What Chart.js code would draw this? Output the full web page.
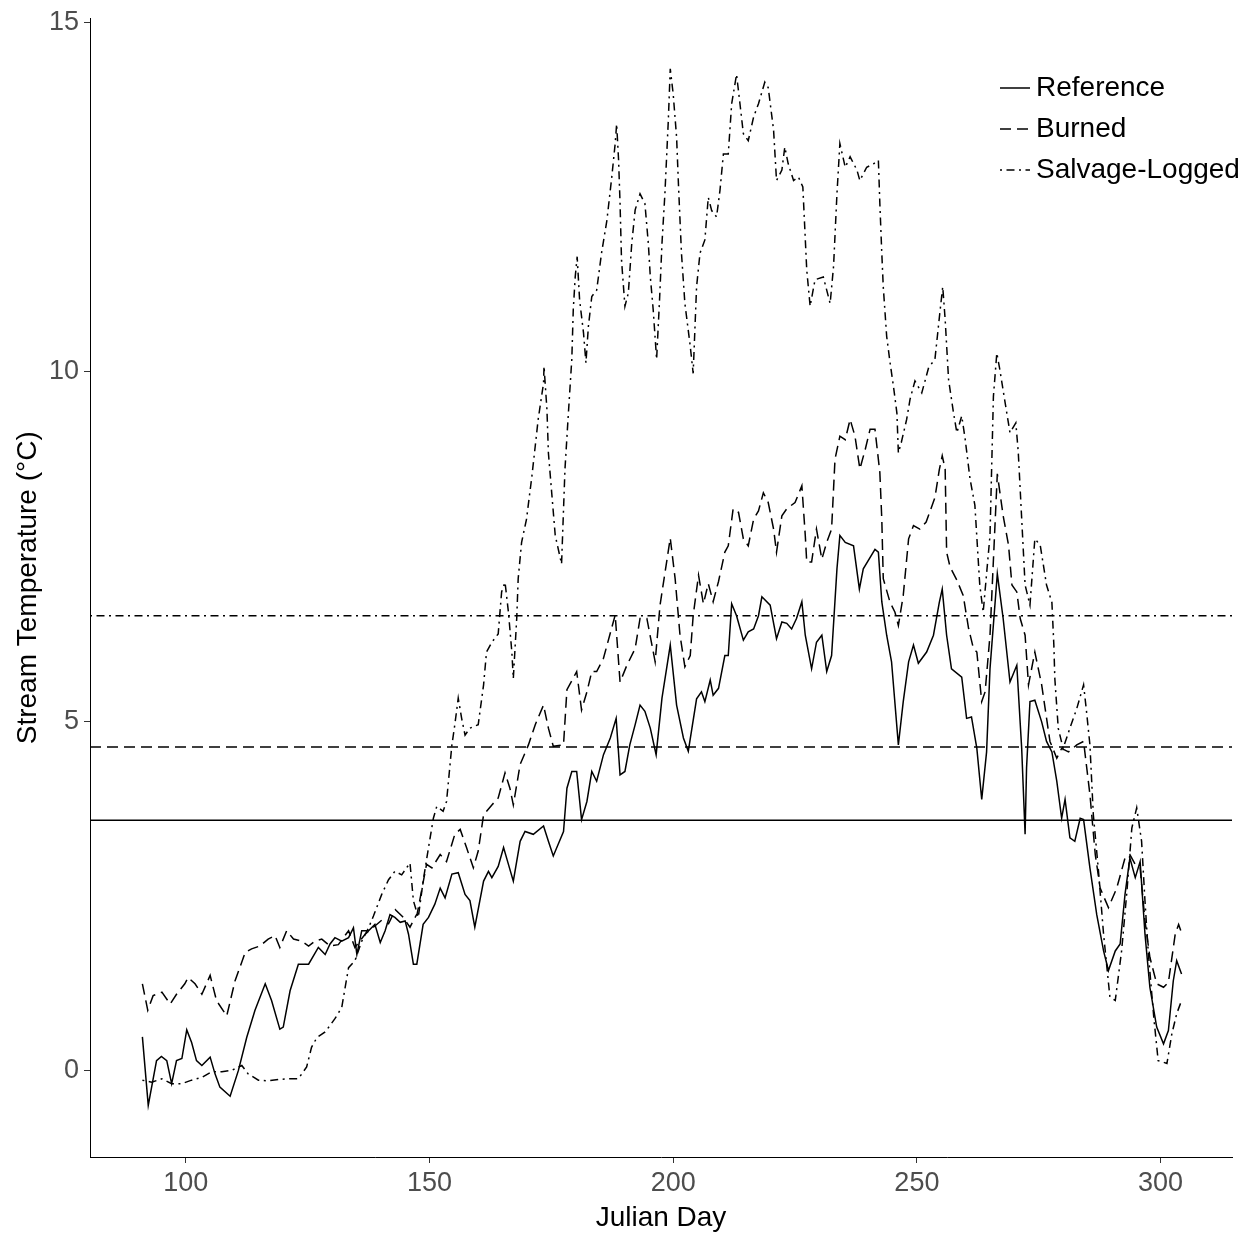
<!DOCTYPE html>
<html>
<head>
<meta charset="utf-8">
<title>Stream temperature by Julian day</title>
<script src="https://cdn.jsdelivr.net/npm/chart.js@4.4.1/dist/chart.umd.min.js"></script>
<style>
  html, body { margin: 0; padding: 0; background: #fff; }
</style>
</head>
<body>
<canvas id="tempChart" width="1257" height="1236"></canvas>
<script>
// Reference stream (solid)
const refDays = [91.1, 92.3, 94, 95, 96.1, 97.1, 98.1, 99.2, 100.2, 101.2, 102.2, 103.3, 105, 106, 107, 109.1, 110.8, 112.5, 114.2, 116.3,
  117.6, 119.3, 120, 121.4, 123.1, 125.2, 127.2, 128.6, 129.6, 130.6, 132, 133.4, 134.4, 135.1, 136.1, 137.5, 138.8, 139.9, 140.9, 141.9,
  142.9, 144, 145, 145.7, 146.7, 147.4, 148.7, 149.8, 151.1, 152.2, 153.2, 154.6, 155.9, 157.3, 158.3, 159.3, 161.1, 162.1, 162.8, 164.1,
  165.2, 166.2, 167.2, 168.6, 169.6, 171.3, 173.4, 174.4, 175.4, 177.5, 178.2, 179.2, 180.2, 181.2, 182.3, 183.3, 184.3, 185.7, 187.1, 188.3,
  189.1, 190.1, 191.1, 192.2, 193.2, 194.2, 195.3, 196.5, 197.7, 199.4, 200.7, 202.1, 203.1, 204.8, 205.8, 206.5, 207.6, 208.2, 209.3, 210.6,
  211.3, 212, 213, 214.4, 215.4, 216.5, 217.5, 218.2, 219.9, 221.2, 222.3, 223.3, 224.3, 225.3, 226.4, 227.1, 228.4, 229.4, 230.5, 231.5,
  232.5, 233.6, 234.2, 235.3, 237, 238.2, 239, 241.4, 242.1, 242.8, 243.8, 244.8, 246.2, 247.2, 248.3, 249.3, 250.3, 252, 253.4, 254.6,
  255.2, 256.1, 257.1, 259.2, 260.2, 261.2, 262.3, 263.3, 264.3, 265, 266.5, 267.7, 269.1, 270.5, 271.5, 272.2, 272.5, 273.2, 274.2, 275.6,
  276.6, 277.7, 278.7, 279.7, 280.4, 281.4, 282.4, 283.5, 284.2, 285.5, 286.9, 288.3, 289.3, 290.7, 291.7, 292.7, 293.7, 294.8, 295.8, 296.8,
  297.8, 299.2, 300.6, 301.6, 302.6, 303.3, 304.3];
const refTemp = [0.48, -0.50, 0.14, 0.20, 0.14, -0.19, 0.14, 0.17, 0.58, 0.40, 0.14, 0.07, 0.19, -0.05, -0.24, -0.37, 0.00, 0.47, 0.86, 1.24,
  1.00, 0.59, 0.62, 1.14, 1.52, 1.52, 1.76, 1.66, 1.81, 1.90, 1.85, 1.90, 2.04, 1.66, 2.00, 2.00, 2.09, 1.83, 2.00, 2.23,
  2.19, 2.12, 2.14, 1.95, 1.52, 1.52, 2.09, 2.19, 2.38, 2.61, 2.47, 2.81, 2.83, 2.52, 2.43, 2.05, 2.71, 2.85, 2.76, 2.92,
  3.19, 2.95, 2.71, 3.28, 3.42, 3.38, 3.50, 3.28, 3.07, 3.42, 4.04, 4.28, 4.28, 3.59, 3.85, 4.28, 4.14, 4.52, 4.76, 5.04,
  4.23, 4.28, 4.66, 4.95, 5.23, 5.14, 4.90, 4.52, 5.33, 6.09, 5.23, 4.76, 4.57, 5.32, 5.42, 5.28, 5.59, 5.37, 5.47, 5.94,
  5.94, 6.68, 6.51, 6.16, 6.28, 6.32, 6.51, 6.78, 6.66, 6.18, 6.42, 6.40, 6.32, 6.47, 6.71, 6.23, 5.75, 6.13, 6.23, 5.71,
  5.94, 7.18, 7.66, 7.56, 7.51, 6.89, 7.18, 7.46, 7.42, 6.71, 6.23, 5.85, 4.66, 5.28, 5.85, 6.09, 5.83, 5.99, 6.23, 6.70,
  6.89, 6.23, 5.75, 5.63, 5.04, 5.06, 4.61, 3.88, 4.56, 5.75, 7.11, 6.47, 5.56, 5.80, 4.61, 3.38, 4.33, 5.28, 5.30, 4.99,
  4.71, 4.56, 4.14, 3.61, 3.88, 3.33, 3.28, 3.61, 3.59, 2.90, 2.23, 1.71, 1.43, 1.71, 1.81, 2.52, 3.04, 2.76, 2.99, 1.95,
  1.19, 0.62, 0.38, 0.57, 1.28, 1.57, 1.38];

// Burned stream (dashed)
const burnDays = [91.1, 92.2, 93.3, 95.1, 96.8, 98.1, 99.8, 100.5, 101.9, 103.3, 105, 106.3, 108.4, 110.1, 112.2, 113.5, 115.2, 116.9, 118.3, 119.3,
  120.7, 122.1, 123.8, 125.2, 126.5, 127.9, 129.6, 131.3, 133.4, 134.7, 136.8, 138.5, 140.2, 141.6, 143, 144.5, 146, 147.5, 149.4, 150.5,
  152.2, 153.5, 155.2, 156.3, 157.6, 159, 160, 161.1, 162.8, 164.1, 165.5, 166.5, 167.2, 168.6, 170.3, 171.7, 173.4, 174.4, 175.4, 177.5,
  178.2, 180.2, 181.2, 182.3, 183.3, 184.3, 185.7, 188.1, 189.1, 190.5, 192.2, 193.2, 194.6, 196.3, 197.3, 199.4, 200.4, 201.4, 202.4, 203.5,
  204.1, 205.2, 206.2, 207.2, 208.2, 209.3, 210.6, 211.3, 212.3, 213.4, 214.4, 215.4, 216.5, 217.5, 218.5, 219.5, 220.6, 221.2, 222.3, 223.3,
  225, 226.4, 227.1, 227.4, 228.4, 229.4, 230.5, 231.5, 232.5, 233.2, 234.2, 235.3, 236.3, 237.3, 238.3, 239.4, 240.4, 241.4, 242.4, 242.8,
  243.1, 244.5, 245.5, 246.2, 247.2, 248.3, 249.3, 250.6, 251.9, 253.7, 254.6, 255.2, 255.8, 256.1, 256.8, 258.2, 259.5, 260.6, 261.6, 262.3,
  263.3, 264, 265, 266.5, 267.7, 268.8, 269.5, 270.5, 271.2, 272.2, 272.9, 274.2, 275.6, 277.3, 278.7, 279.7, 281.1, 282.8, 284.2, 285.5,
  286.6, 287.6, 289.3, 291, 292.7, 293.7, 294.8, 295.8, 296.8, 297.8, 299.2, 300.6, 301.6, 303, 303.7, 304.3];
const burnTemp = [1.24, 0.86, 1.07, 1.12, 0.95, 1.09, 1.24, 1.33, 1.24, 1.09, 1.36, 1.00, 0.78, 1.28, 1.69, 1.74, 1.78, 1.88, 1.93, 1.76,
  2.00, 1.88, 1.85, 1.78, 1.85, 1.88, 1.78, 1.80, 2.00, 1.76, 1.95, 2.05, 2.15, 2.10, 2.30, 2.20, 2.05, 2.25, 2.95, 2.90,
  3.09, 2.99, 3.38, 3.45, 3.19, 2.90, 3.14, 3.66, 3.80, 3.90, 4.26, 4.04, 3.80, 4.38, 4.66, 4.95, 5.23, 4.90, 4.64, 4.66,
  5.45, 5.71, 5.16, 5.42, 5.71, 5.71, 5.90, 6.52, 5.56, 5.80, 6.04, 6.47, 6.47, 5.85, 6.66, 7.62, 7.04, 6.23, 5.78, 5.94,
  6.51, 7.09, 6.68, 6.97, 6.71, 7.00, 7.42, 7.51, 8.04, 7.99, 7.61, 7.51, 7.89, 8.01, 8.27, 8.13, 7.75, 7.42, 7.94, 8.04,
  8.13, 8.37, 7.66, 7.28, 7.28, 7.75, 7.32, 7.56, 7.75, 8.75, 9.08, 9.03, 9.32, 9.08, 8.61, 8.89, 9.18, 9.18, 8.56, 7.89,
  7.04, 6.70, 6.56, 6.37, 6.80, 7.61, 7.80, 7.75, 7.85, 8.20, 8.60, 8.80, 8.61, 7.42, 7.21, 7.02, 6.80, 6.33, 6.04, 5.99,
  5.28, 5.42, 6.23, 8.54, 7.94, 7.52, 6.95, 6.85, 6.47, 6.23, 5.52, 5.99, 5.52, 4.71, 4.47, 4.61, 4.56, 4.66, 4.71, 3.95,
  3.09, 2.61, 2.33, 2.61, 3.04, 3.09, 2.95, 2.90, 2.14, 1.62, 1.24, 1.19, 1.26, 1.95, 2.09, 1.97];

// Salvage-logged stream (dot-dash)
const salvDays = [91.1, 93, 95.1, 97.1, 99.2, 101.2, 103.3, 105.3, 107.4, 109.4, 111.5, 112.8, 114.9, 116.9, 119, 121, 123.1, 124.8, 125.8, 126.9,
  128.6, 130.6, 132, 132.7, 133.4, 134.7, 136.1, 137.5, 138.5, 140.2, 141.6, 142.9, 144.3, 146, 146.7, 147.7, 148.7, 149.8, 150.8, 151.5,
  152.8, 153.5, 154.6, 155.2, 155.9, 156.6, 157.3, 158.3, 160, 161.1, 161.7, 162.8, 164.1, 164.8, 165.5, 166.2, 166.9, 167.2, 167.9, 168.2,
  168.9, 169.9, 171, 171.7, 172.3, 173.4, 173.5, 174.1, 174.4, 175.8, 177.1, 177.8, 178.5, 179.2, 179.5, 179.9, 180.3, 180.8, 181.6, 182.1,
  182.6, 183.3, 184.3, 185.3, 186.4, 187.4, 188.1, 188.4, 188.8, 189.1, 189.4, 190.1, 190.8, 191.5, 192.2, 193.2, 194.2, 194.9, 195.3, 195.9,
  196.6, 197.2, 197.7, 198.3, 199, 199.4, 200, 200.7, 201.1, 201.7, 202.4, 203.5, 204.1, 204.8, 205.5, 206.5, 207.2, 207.9, 208.9, 209.6,
  210.3, 211.3, 212, 213, 213.7, 214.4, 215.4, 216.5, 217.5, 218.8, 219.5, 220.6, 221.2, 222.3, 222.9, 223.6, 224.7, 225.7, 226.6, 227.4,
  228.1, 229.1, 230.8, 232.2, 232.9, 233.6, 234.2, 235.3, 236.3, 237.7, 238.3, 239.7, 241.1, 242.1, 242.4, 242.8, 243.1, 243.8, 244.5, 245.2,
  245.9, 246.2, 246.8, 247.9, 248.6, 249.6, 251, 252.4, 253.7, 254.7, 255.3, 255.8, 256.5, 257.5, 258.2, 259.2, 259.9, 260.9, 261.9, 262.9,
  263.6, 265, 265.7, 266.4, 267, 268.1, 269.1, 270.3, 270.8, 271.5, 272.2, 273.2, 274.2, 275.3, 276.6, 277.7, 278.1, 278.3, 279, 280,
  281.4, 282.8, 284.2, 284.8, 285.5, 286.2, 287.2, 288.3, 289.6, 290.7, 292, 293.1, 294.1, 295.1, 296.1, 296.8, 297.5, 298.6, 299.5, 301.3,
  302.3, 303.3, 304.3];
const salvTemp = [-0.14, -0.17, -0.12, -0.19, -0.19, -0.14, -0.10, -0.02, -0.02, 0.00, 0.07, -0.05, -0.14, -0.15, -0.13, -0.12, -0.12, 0.05, 0.33, 0.47,
  0.55, 0.74, 0.90, 1.19, 1.47, 1.57, 1.85, 2.04, 2.21, 2.52, 2.73, 2.85, 2.80, 2.97, 2.43, 2.19, 2.71, 3.19, 3.61, 3.78,
  3.71, 3.85, 4.66, 4.95, 5.33, 5.04, 4.80, 4.90, 4.95, 5.52, 5.99, 6.13, 6.25, 6.85, 6.99, 6.56, 5.99, 5.61, 6.47, 7.04,
  7.56, 7.89, 8.50, 8.94, 9.32, 9.84, 10.08, 9.46, 8.84, 7.66, 7.25, 8.61, 9.41, 10.18, 10.89, 11.36, 11.65, 11.03, 10.56, 10.13,
  10.65, 11.08, 11.17, 11.70, 12.17, 12.79, 13.27, 13.55, 13.03, 12.41, 11.60, 10.94, 11.13, 11.84, 12.32, 12.55, 12.41, 11.84, 11.37, 10.89,
  10.18, 11.03, 11.84, 12.55, 13.60, 14.34, 13.98, 13.36, 12.65, 11.70, 10.98, 10.37, 9.98, 11.22, 11.70, 11.89, 12.50, 12.31, 12.22, 12.60,
  13.12, 13.12, 13.84, 14.26, 13.84, 13.41, 13.31, 13.65, 13.84, 14.15, 14.07, 13.46, 12.74, 12.89, 13.22, 12.98, 12.74, 12.79, 12.65, 11.46,
  10.94, 11.32, 11.36, 10.98, 11.51, 12.55, 13.27, 12.93, 13.08, 12.89, 12.74, 12.93, 12.98, 13.03, 12.41, 11.70, 11.22, 10.51, 10.13, 9.79,
  9.41, 8.84, 8.99, 9.32, 9.61, 9.87, 9.70, 10.06, 10.18, 10.84, 11.22, 10.75, 9.89, 9.42, 9.13, 9.37, 9.04, 8.47, 8.09, 6.95,
  6.56, 7.66, 9.65, 10.27, 10.04, 9.56, 9.13, 9.27, 8.85, 7.90, 6.95, 6.66, 7.61, 7.52, 6.95, 6.70, 6.09, 5.61, 4.90, 4.61,
  4.90, 5.18, 5.52, 5.14, 4.66, 3.66, 2.90, 1.95, 1.05, 1.00, 1.71, 2.57, 3.47, 3.76, 3.28, 2.42, 1.66, 0.76, 0.14, 0.10,
  0.52, 0.81, 1.00];

// season means drawn as horizontal reference lines
const meanTemps = [3.58, 4.63, 6.51];
const seriesNames = ['Reference', 'Burned', 'Salvage-Logged'];
const dashStyles = [[], [11, 6], [2, 4.5, 8, 4.5]];

const xMin = 80.35, xMax = 314.65;
const FONT = '"Liberation Sans", Arial, sans-serif';

const toPoints = (days, temps) => days.map((d, i) => ({ x: d, y: temps[i] }));

const seriesSets = [
  toPoints(refDays, refTemp),
  toPoints(burnDays, burnTemp),
  toPoints(salvDays, salvTemp)
].map((pts, i) => ({
  label: seriesNames[i],
  data: pts,
  borderColor: '#000',
  borderWidth: 1.5,
  borderDash: dashStyles[i],
  pointRadius: 0,
  tension: 0
}));

const meanSets = meanTemps.map((m, i) => ({
  label: '',
  data: [{ x: xMin, y: m }, { x: xMax, y: m }],
  borderColor: '#000',
  borderWidth: 1.5,
  borderDash: dashStyles[i],
  pointRadius: 0
}));

// ggplot style key: short line sample followed by the label, inside the panel
const lineKey = {
  id: 'lineKey',
  afterDraw(chart) {
    const ctx = chart.ctx;
    const x0 = 1000, y0 = 88, gap = 41;
    chart.data.datasets.filter(d => d.label).forEach((ds, i) => {
      const y = y0 + i * gap;
      ctx.save();
      ctx.strokeStyle = ds.borderColor;
      ctx.lineWidth = ds.borderWidth;
      ctx.setLineDash(ds.borderDash);
      ctx.beginPath();
      ctx.moveTo(x0, y);
      ctx.lineTo(x0 + 30, y);
      ctx.stroke();
      ctx.setLineDash([]);
      ctx.fillStyle = '#000';
      ctx.font = '28px ' + FONT;
      ctx.textBaseline = 'middle';
      ctx.fillText(ds.label, x0 + 36, y);
      ctx.restore();
    });
  }
};

new Chart(document.getElementById('tempChart'), {
  type: 'line',
  data: { datasets: [...meanSets, ...seriesSets] },
  options: {
    responsive: false,
    animation: false,
    layout: { padding: { top: 14, right: 25, left: 0, bottom: 0 } },
    plugins: {
      legend: { display: false },
      tooltip: { enabled: false }
    },
    scales: {
      x: {
        type: 'linear',
        min: xMin,
        max: xMax,
        afterFit: s => { s.height = 79; },
        border: { display: true, color: '#000', width: 1 },
        grid: { drawOnChartArea: false, drawTicks: true, tickLength: 6, color: '#333' },
        ticks: {
          stepSize: 50,
          includeBounds: false,
          padding: 4,
          color: '#4d4d4d',
          font: { family: FONT, size: 27 }
        },
        title: {
          display: true,
          text: 'Julian Day',
          color: '#000',
          padding: { top: 0, bottom: 1 },
          font: { family: FONT, size: 28 }
        }
      },
      y: {
        min: -1.24,
        max: 15.06,
        afterFit: s => { s.width = 90; },
        border: { display: true, color: '#000', width: 1 },
        grid: { drawOnChartArea: false, drawTicks: true, tickLength: 6, color: '#333' },
        ticks: {
          stepSize: 5,
          includeBounds: false,
          padding: 5,
          color: '#4d4d4d',
          font: { family: FONT, size: 27, lineHeight: 1 }
        },
        title: {
          display: true,
          text: 'Stream Temperature (°C)',
          color: '#000',
          padding: { top: 11, bottom: 0 },
          font: { family: FONT, size: 28 }
        }
      }
    }
  },
  plugins: [lineKey]
});
</script>
</body>
</html>
